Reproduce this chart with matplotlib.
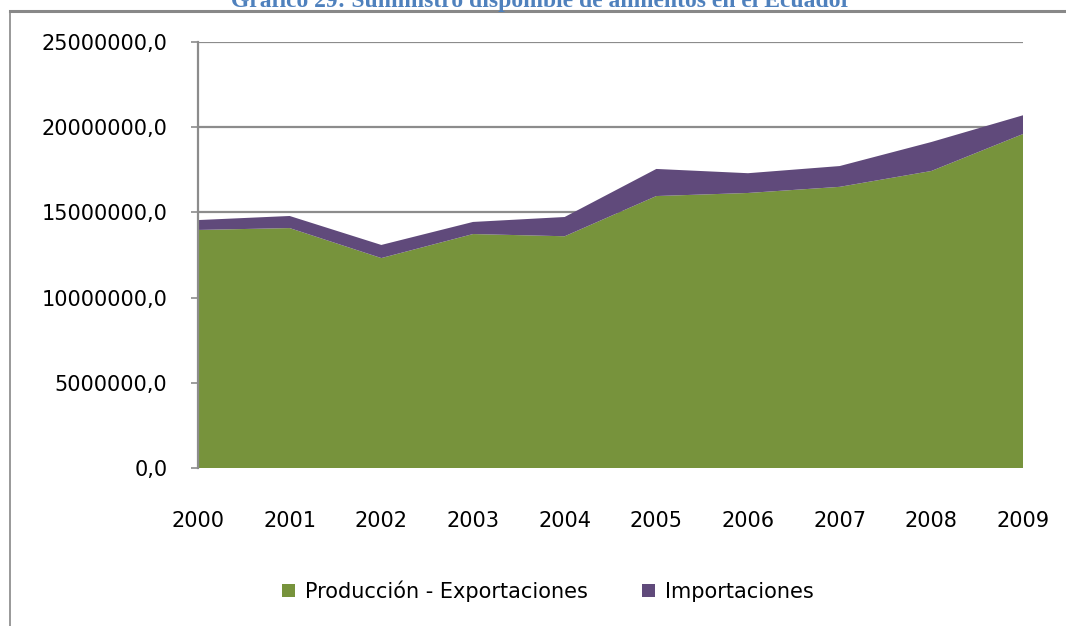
import matplotlib
matplotlib.use("Agg")
import matplotlib.pyplot as plt
from matplotlib.lines import Line2D
from matplotlib.patches import Patch

years = [2000, 2001, 2002, 2003, 2004, 2005, 2006, 2007, 2008, 2009]
produccion_export = [13.97e6, 14.08e6, 12.32e6, 13.73e6, 13.60e6,
                     15.96e6, 16.14e6, 16.50e6, 17.43e6, 19.60e6]
importaciones = [0.58e6, 0.71e6, 0.77e6, 0.71e6, 1.13e6,
                 1.59e6, 1.16e6, 1.22e6, 1.70e6, 1.10e6]
yticks = [0, 5e6, 10e6, 15e6, 20e6, 25e6]
labels = ["Producción - Exportaciones", "Importaciones"]

GREEN = "#77933C"
PURPLE = "#604A7B"
GRID = "#8C8C8C"

plt.rcParams["font.family"] = ["DejaVu Sans"]

W, H = 1066, 626
fig = plt.figure(figsize=(W / 100, H / 100), dpi=100)
ax = fig.add_axes([198 / W, 1 - 468 / H, (1023 - 198) / W, (468 - 42) / H])

ax.stackplot(years, produccion_export, importaciones,
             colors=[GREEN, PURPLE], linewidth=0)

ax.set_xlim(years[0], years[-1])
ax.set_ylim(0, 25e6)
ax.set_yticks(yticks)
ax.set_yticklabels([f"{v:.1f}".replace(".", ",") for v in yticks], fontsize=15)
ax.set_xticks(years)
ax.set_xticklabels([str(y) for y in years], fontsize=15)
ax.tick_params(axis="y", length=5, color=GRID, width=1.2, pad=17)
ax.tick_params(axis="x", length=0, pad=31)
ax.yaxis.grid(True, color=GRID, linewidth=1.6)
ax.set_axisbelow(True)
for s in ["top", "right", "bottom"]:
    ax.spines[s].set_visible(False)
ax.spines["left"].set_color(GRID)
ax.spines["left"].set_linewidth(1.6)

# chart frame (top and left edges visible)
fig.add_artist(Line2D([10 / W, 1], [1 - 11 / H, 1 - 11 / H], color="#888888", lw=2.2))
fig.add_artist(Line2D([10 / W, 10 / W], [1 - 11 / H, 0], color="#888888", lw=1.2))

# title, clipped at the top as in the source page
fig.text(541 / W, 1 - 7 / H, "Gráfico 29: Suministro disponible de alimentos en el Ecuador",
         ha="center", va="baseline", fontsize=17, fontweight="bold",
         color="#4F81BD", family=["Liberation Serif", "DejaVu Serif"])

handles = [Patch(facecolor=GREEN, label=labels[0]),
           Patch(facecolor=PURPLE, label=labels[1])]
fig.legend(handles=handles, loc="center", bbox_to_anchor=(548 / W, 1 - 591 / H),
           ncol=2, frameon=False, fontsize=15, handlelength=0.6, handleheight=0.6,
           handletextpad=0.5, columnspacing=2.6)

fig.savefig("out.png", dpi=100)
